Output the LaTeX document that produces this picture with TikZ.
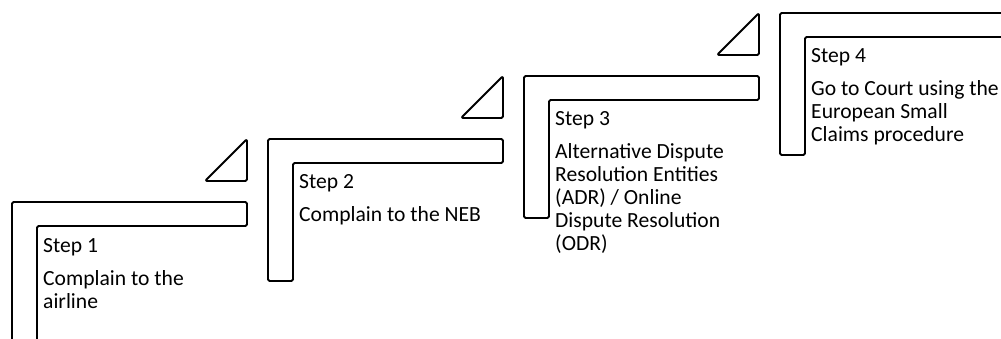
\documentclass[tikz,border=0pt]{standalone}
\usepackage{fontspec}
\setmainfont{Carlito}
\begin{document}
\begin{tikzpicture}[x=1pt,y=-1pt,
  stairline/.style={draw=black,line width=1.8pt,rounded corners=1.5pt,line join=round},
  txt/.style={anchor=base west,inner sep=0pt,font=\fontsize{21.6}{23}\selectfont,text=black},
  stair/.pic={
    \draw[stairline] (0,0) -- (235,0) -- (235,24) -- (25,24) -- (25,142) -- (0,142) -- cycle;
  },
  wedge/.pic={
    \draw[stairline] (193,-21) -- (235,-21) -- (235,-63) -- cycle;
  }]
\clip (0,0) rectangle (1001,339);
\fill[white] (0,0) rectangle (1001,339);
% step shapes
\pic at (12,202) {stair};
\pic at (12,202) {wedge};
\pic at (268,139) {stair};
\pic at (268,139) {wedge};
\pic at (524,76) {stair};
\pic at (524,76) {wedge};
\pic at (780,13) {stair};
% texts step 1
\node[txt] (s1) at (43,252) {Step 1};
\node[txt] (s1a) at (43,285) {Complain to the};
\node[txt] (s1b) at (43,308) {airline};
% step 2
\node[txt] (s2) at (299,189) {Step 2};
\node[txt] (s2a) at (299,222) {Complain to the NEB};
% step 3
\node[txt] (s3) at (555,126) {Step 3};
\node[txt] (s3a) at (555,159) {Alternative Dispute};
\node[txt] (s3b) at (555,182) {Resolution Entities};
\node[txt] (s3c) at (555,205) {(ADR) / Online};
\node[txt] (s3d) at (555,228) {Dispute Resolution};
\node[txt] (s3e) at (555,251) {(ODR)};
% step 4
\node[txt] (s4) at (811,63) {Step 4};
\node[txt] (s4a) at (811,96) {Go to Court using the};
\node[txt] (s4b) at (811,119) {European Small};
\node[txt] (s4c) at (811,142) {Claims procedure};
\end{tikzpicture}
\end{document}
